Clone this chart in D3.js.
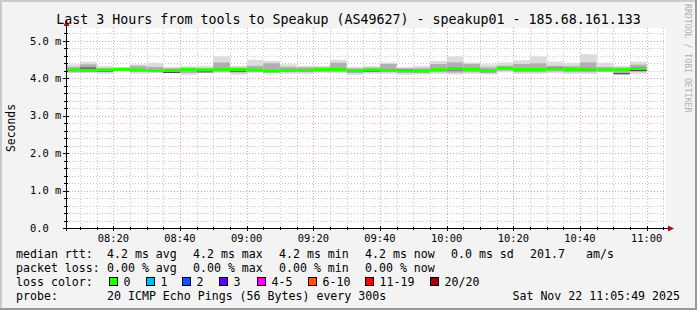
<!DOCTYPE html>
<html><head><meta charset="utf-8">
<script src="https://cdn.jsdelivr.net/npm/d3@7"></script>
<style>
body{margin:0;background:#fff;}
svg text{font-family:"DejaVu Sans Mono",monospace;fill:#000;white-space:pre;}
</style>
</head><body>
<svg id="chart" width="697" height="310"></svg>
<script>
// ---------- DATA ----------
const title = "Last 3 Hours from tools to Speakup (AS49627) - speakup01 - 185.68.161.133";
const yLabel = "Seconds";
const startTime = "2025-11-22T08:05:49";
const endTime = "2025-11-22T11:05:49";
// end time of each 5-minute step
const times = ["08:10","08:15","08:20","08:25","08:30","08:35","08:40","08:45","08:50","08:55",
  "09:00","09:05","09:10","09:15","09:20","09:25","09:30","09:35","09:40","09:45",
  "09:50","09:55","10:00","10:05","10:10","10:15","10:20","10:25","10:30","10:35",
  "10:40","10:45","10:50","10:55","11:00"];
// values in ms
const median = [4.22,4.21,4.22,4.235,4.22,4.20,4.21,4.23,4.22,4.235,4.235,4.22,
  4.19,4.21,4.21,4.23,4.235,4.20,4.22,4.21,4.20,4.19,4.23,
  4.26,4.235,4.20,4.27,4.23,4.23,4.25,4.235,4.245,4.22,4.235,4.26];
const pingMax = [4.37,4.44,4.33,4.30,4.37,4.41,4.30,4.32,4.33,4.58,4.33,4.49,
  4.46,4.37,4.33,4.33,4.49,4.30,4.32,4.42,4.30,4.33,4.46,
  4.58,4.42,4.37,4.42,4.48,4.58,4.44,4.41,4.64,4.41,4.33,4.44];
const pingMin = [4.14,4.14,4.12,4.19,4.12,4.14,4.14,4.09,4.14,4.14,4.09,4.14,
  4.12,4.12,4.12,4.14,4.14,4.09,4.12,4.12,4.09,4.10,4.12,
  4.10,4.12,4.10,4.16,4.12,4.12,4.14,4.12,4.12,4.16,4.10,4.12];
const innerHi = [4.30,4.37,4.27,4.27,4.33,4.30,4.26,4.28,4.27,4.42,4.28,4.33,
  4.40,4.30,4.29,4.29,4.41,4.26,4.28,4.38,4.26,4.27,4.38,
  4.42,4.38,4.29,4.33,4.38,4.40,4.33,4.32,4.42,4.30,4.28,4.36];
const innerLo = [4.16,4.16,4.16,4.20,4.17,4.17,4.17,4.14,4.17,4.17,4.15,4.17,
  4.16,4.16,4.16,4.17,4.17,4.14,4.16,4.16,4.14,4.14,4.16,
  4.15,4.16,4.14,4.20,4.16,4.16,4.18,4.16,4.16,4.18,4.13,4.17];
// dense cluster of pings (dark smoke line), null where none visible
const darkLine = [null,4.27,4.19,null,null,null,4.155,null,4.17,null,4.19,null,
  null,4.225,null,null,4.245,null,4.19,null,4.225,null,null,
  4.225,null,4.18,null,null,null,4.27,null,4.225,null,4.12,4.21];
const yTicks = [0,1,2,3,4,5];
const yTickLabels = ["0.0","1.0 m","2.0 m","3.0 m","4.0 m","5.0 m"];
const xTickLabels = ["08:20","08:40","09:00","09:20","09:40","10:00","10:20","10:40","11:00"];
const rttLabel = "median rtt:";
const rttStats = ["4.2 ms avg","4.2 ms max","4.2 ms min","4.2 ms now","0.0 ms sd","201.7","am/s"];
const lossLabel = "packet loss:";
const lossStats = ["0.00 % avg","0.00 % max","0.00 % min","0.00 % now"];
const lossColorLabel = "loss color:";
const lossNames = ["0","1","2","3","4-5","6-10","11-19","20/20"];
const lossColors = ["#26ff00","#00b8ff","#0059ff","#5e00ff","#ff00ff","#ff5500","#ff0000","#a00000"];
const probeLabel = "probe:";
const probeText = "20 ICMP Echo Pings (56 Bytes) every 300s";
const dateText = "Sat Nov 22 11:05:49 2025";
const watermark = "RRDTOOL / TOBI OETIKER";

// ---------- LAYOUT ----------
const W = 697, H = 310;
const L = 66, R = 666, T = 28, B = 228;
const svg = d3.select("#chart");

// background + 3D frame
svg.append("rect").attr("width",W).attr("height",H).attr("fill","#f3f3f3");
svg.append("path").attr("d",`M0,0H${W}V2H2V${H}H0Z`).attr("fill","#cbcbcb");
svg.append("path").attr("d",`M${W},${H}H0V${H-2}H${W-2}V0H${W}Z`).attr("fill","#999999");
svg.append("rect").attr("x",L).attr("y",T).attr("width",R-L).attr("height",B-T).attr("fill","#ffffff");

const parse = d3.timeParse("%Y-%m-%dT%H:%M:%S");
const t0 = parse(startTime), t1 = parse(endTime);
const x = d3.scaleTime().domain([t0,t1]).range([L,R]);
const y = d3.scaleLinear().domain([0,5]).range([B, B-187.25]);
const toDate = s => parse("2025-11-22T"+s+":00");
const crisp = v => Math.round(v)+0.5;

// grid
const grid = svg.append("g");
const minorT = d3.timeMinute.every(5).range(t0,t1);
const majorT = d3.timeMinute.every(20).range(t0,t1);
const isMajor = d => d.getMinutes()%20===0;
minorT.filter(d=>!isMajor(d)).forEach(d=>{
  grid.append("line").attr("x1",crisp(x(d))).attr("x2",crisp(x(d))).attr("y1",T).attr("y2",B)
    .attr("stroke","#c8c8c8").attr("stroke-dasharray","1,2");
});
const yMinor = d3.range(0, 5.35, 0.2).filter(v=>Math.abs(v-Math.round(v))>1e-6);
yMinor.forEach(v=>{
  grid.append("line").attr("x1",L).attr("x2",R).attr("y1",crisp(y(v))).attr("y2",crisp(y(v)))
    .attr("stroke","#c8c8c8").attr("stroke-dasharray","1,2");
});
majorT.forEach(d=>{
  grid.append("line").attr("x1",crisp(x(d))).attr("x2",crisp(x(d))).attr("y1",T).attr("y2",B)
    .attr("stroke","#f0a0a0").attr("stroke-dasharray","1,2");
});
yTicks.filter(v=>v>0).forEach(v=>{
  grid.append("line").attr("x1",L).attr("x2",R).attr("y1",crisp(y(v))).attr("y2",crisp(y(v)))
    .attr("stroke","#f0a0a0").attr("stroke-dasharray","1,2");
});

// smoke + median
const bars = svg.append("g");
times.forEach((s,i)=>{
  const te = toDate(s);
  const ts = d3.timeMinute.offset(te,-5);
  const xa = Math.max(L, x(ts)), xb = x(te);
  const w = xb - xa;
  bars.append("rect").attr("x",xa).attr("width",w).attr("y",y(pingMax[i])).attr("height",y(pingMin[i])-y(pingMax[i])).attr("fill","#dcdcdc");
  bars.append("rect").attr("x",xa).attr("width",w).attr("y",y(innerHi[i])).attr("height",y(innerLo[i])-y(innerHi[i])).attr("fill","#b0b0b0");
  if (darkLine[i] !== null)
    bars.append("rect").attr("x",xa).attr("width",w).attr("y",y(darkLine[i])-0.6).attr("height",1.2).attr("fill","#4a4a4a");
  bars.append("rect").attr("x",xa).attr("width",w).attr("y",y(median[i])-1.5).attr("height",3).attr("fill",lossColors[0]);
});

// axes
const ax = svg.append("g");
ax.append("line").attr("x1",63).attr("x2",669).attr("y1",B+0.5).attr("y2",B+0.5).attr("stroke","#000");
ax.append("line").attr("x1",L+0.5).attr("x2",L+0.5).attr("y1",B+3).attr("y2",25).attr("stroke","#000");
ax.append("path").attr("d",`M668,${B-2.5}L674,${B+0.5}L668,${B+3.5}Z`).attr("fill","#a01010");
ax.append("path").attr("d",`M${L-2.5},26L${L+0.5},20L${L+3.5},26Z`).attr("fill","#a01010");
// ticks
minorT.forEach(d=>{
  const xx = crisp(x(d));
  ax.append("line").attr("x1",xx).attr("x2",xx).attr("y1",B+(isMajor(d)?3:2)).attr("y2",B-(isMajor(d)?2:1)).attr("stroke","#000");
});
d3.range(0,5.35,0.2).forEach(v=>{
  const maj = Math.abs(v-Math.round(v))<1e-6;
  const yy = crisp(y(v));
  ax.append("line").attr("x1",L-(maj?3:2)).attr("x2",L+(maj?3:2)).attr("y1",yy).attr("y2",yy).attr("stroke","#000");
});

// tick labels
yTicks.forEach((v,i)=>{
  svg.append("text").attr("x",30).attr("y",y(v)+3.8).attr("font-size","10.4px").text(yTickLabels[i]);
});
majorT.forEach((d,i)=>{
  svg.append("text").attr("x",x(d)).attr("y",242).attr("text-anchor","middle").attr("font-size","10.4px").text(xTickLabels[i]);
});

// title & labels
svg.append("text").attr("x",348.5).attr("y",23.5).attr("text-anchor","middle").attr("font-size","13.3px").text(title);
svg.append("text").attr("transform","translate(15,128) rotate(-90)").attr("text-anchor","middle").attr("font-size","11.4px").text(yLabel);
svg.append("text").attr("transform","translate(685,4) rotate(90)").attr("font-size","8.2px").style("fill","#b0b0b0").text(watermark);

// legend
const LF = "11.6px";
const row = (yy, items) => items.forEach(([xx,t])=>svg.append("text").attr("x",xx).attr("y",yy).attr("font-size",LF).text(t));
row(258, [[16,rttLabel],[107,rttStats[0]],[193,rttStats[1]],[279,rttStats[2]],[365,rttStats[3]],[451,rttStats[4]],[530,rttStats[5]],[586,rttStats[6]]]);
row(272, [[16,lossLabel],[107,lossStats[0]],[193,lossStats[1]],[279,lossStats[2]],[365,lossStats[3]]]);
row(286, [[16,lossColorLabel]]);
const swX = [109,146,182,219,257,308,365,430];
lossNames.forEach((n,i)=>{
  svg.append("rect").attr("x",swX[i]+0.5).attr("y",277.5).attr("width",8).attr("height",8).attr("fill",lossColors[i]).attr("stroke","#000");
  svg.append("text").attr("x",swX[i]+14.5).attr("y",286).attr("font-size",LF).text(n);
});
row(300, [[16,probeLabel],[107,probeText]]);
svg.append("text").attr("x",680).attr("y",300).attr("text-anchor","end").attr("font-size",LF).text(dateText);
</script>
</body></html>
